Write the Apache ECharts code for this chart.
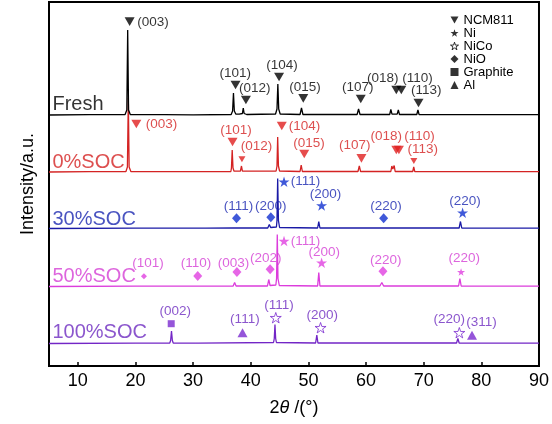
<!DOCTYPE html>
<html><head><meta charset="utf-8">
<script src="https://cdn.jsdelivr.net/npm/echarts@6/dist/echarts.min.js"></script>
<style>html,body{margin:0;padding:0;background:#fff}#c{width:552px;height:424px}</style>
</head><body><div id="c"></div>
<script>
// ---------- data ----------
const traceNames = ['Fresh', '0%SOC', '30%SOC', '50%SOC', '100%SOC'];
const xTicks = [10, 20, 30, 40, 50, 60, 70, 80, 90];

// XRD patterns: [2theta, intensity above own baseline]
const freshPattern = [[5,0],[12,0.3],[18.2,0.5],[18.5,5],[18.65,85],[18.8,5],[19.1,0.5],[25,0.3],[30,0.2],[36.6,0.5],[36.85,4],[37.0,22],[37.15,4],[37.4,1],[37.7,2],[38.0,0.8],[38.55,1.5],[38.7,7],[38.85,1.5],[39.3,0.5],[44.3,1],[44.55,6],[44.7,31],[44.85,6],[45.1,1],[48.55,0.5],[48.8,7],[49.05,0.5],[58.45,0.5],[58.7,6],[58.95,0.5],[64.1,0.5],[64.3,5.5],[64.5,0.8],[65.4,0.8],[65.6,5],[65.8,0.5],[68.8,0.5],[69.0,5],[69.2,0.5],[75,0.3],[82.5,0.3],[82.7,1.5],[82.9,0.3],[83.8,0.3],[84.0,1.2],[84.2,0.3],[90,0.3]];
const soc0Pattern = [[5,0],[12,0.3],[18.35,0.5],[18.6,5],[18.76,74],[18.9,5],[19.2,0.5],[25,0.3],[36.55,0.5],[36.65,4],[36.78,22],[36.92,4],[37.1,0.8],[38.2,0.8],[38.39,6],[38.55,0.8],[44.4,1],[44.55,6],[44.67,35],[44.8,6],[45.0,1],[48.55,0.5],[48.75,7],[48.95,0.5],[58.6,0.5],[58.83,6],[59.05,0.5],[64.3,0.5],[64.47,6],[64.65,3],[64.88,6.5],[65.05,0.5],[68.1,0.5],[68.27,5],[68.45,0.5],[76.6,0.3],[76.8,1],[77,0.3],[81.8,0.3],[82.0,2],[82.2,0.3],[84.4,0.3],[84.6,1],[84.8,0.3],[90,0.3]];
const soc30Pattern = [[5,0],[20,0.3],[31.8,0.3],[32,1],[32.2,0.3],[37.0,0.5],[37.25,2.5],[37.5,0.5],[42.95,0.5],[43.22,4],[43.45,1],[44.45,1.5],[44.55,8],[44.67,50],[44.8,8],[45.0,1],[51.6,0.5],[51.8,7],[52.0,0.5],[62.3,0.5],[62.63,2],[62.95,0.5],[76.15,0.5],[76.38,7],[76.6,0.5],[90,0.3]];
const soc50Pattern = [[5,0],[20,0.3],[36.95,0.5],[37.2,4],[37.45,0.5],[42.9,0.5],[43.12,7],[43.35,1],[44.35,1.5],[44.48,8],[44.6,52],[44.72,8],[44.95,1],[51.6,0.5],[51.8,14],[52.0,0.5],[62.4,0.5],[62.74,4],[63.05,0.5],[76.05,0.5],[76.28,8],[76.5,0.5],[90,0.3]];
const soc100Pattern = [[5,0],[20,0.3],[25.95,0.5],[26.1,3],[26.25,12.5],[26.4,3],[26.55,0.5],[30.5,0.3],[30.7,1],[30.9,0.3],[43.95,1],[44.08,5],[44.2,19],[44.32,5],[44.45,1],[51.25,0.5],[51.46,8.3],[51.65,0.5],[75.7,0.5],[75.93,5],[76.15,0.5],[90,0.3]];
const patterns = [freshPattern, soc0Pattern, soc30Pattern, soc50Pattern, soc100Pattern];

// phase markers: [2theta, level, trace index, 'n'ormal / 's'mall]
const ncmMarks = [[18.99,344.3,0,'n'],[37.36,281,0,'n'],[39.16,266,0,'n'],[44.91,289,0,'n'],[49.11,267.7,0,'n'],[59.08,267,0,'n'],[65.25,276,0,'n'],[66.11,276,0,'n'],[69.1,263,0,'n'],
  [20.15,242,1,'n'],[36.84,224,1,'n'],[38.47,206.7,1,'s'],[45.38,240,1,'n'],[49.28,212,1,'n'],[59.2,207.7,1,'n'],[65.25,216,1,'n'],[65.7,216,1,'n'],[68.29,205,1,'s']];
const niMarks = [[45.77,184.3,2,'n'],[52.29,160.5,2,'n'],[76.75,153.3,2,'n'],[45.77,125,3,'n'],[52.29,103.3,3,'n'],[76.48,94,3,'s']];
const nicoMarks = [[44.34,48.3,4,'n'],[52.11,38.3,4,'n'],[76.18,33.3,4,'n']];
const nioMarks = [[37.53,147.7,2,'n'],[43.48,148.7,2,'n'],[63.05,147.7,2,'n'],[21.47,89.7,3,'s'],[30.8,90,3,'n'],[37.6,94,3,'n'],[43.36,96.7,3,'n'],[62.93,94.7,3,'n']];
const graphiteMarks = [[26.2,42.3,4,'n']];
const alMarks = [[38.57,33.3,4,'n'],[78.38,30.7,4,'n']];

// peak labels: [2theta, level, text, trace index]
const peakLabels = [
  [23.05,344,'(003)',0],[37.31,293,'(101)',0],[40.68,278,'(012)',0],[45.43,301,'(104)',0],[49.4,279,'(015)',0],[58.56,279,'(107)',0],[62.88,288,'(018)',0],[68.93,288,'(110)',0],[70.43,275.3,'(113)',0],
  [24.53,242,'(003)',1],[37.43,236,'(101)',1],[40.99,219.3,'(012)',1],[49.32,240,'(104)',1],[50.09,222.7,'(015)',1],[58.04,220.3,'(107)',1],[63.52,229.3,'(018)',1],[69.27,229.3,'(110)',1],[69.84,216.7,'(113)',1],
  [37.88,159.3,'(111)',2],[43.48,159.3,'(200)',2],[49.49,184.3,'(111)',2],[52.98,171.7,'(200)',2],[63.45,159.3,'(220)',2],[77.17,164.3,'(220)',2],
  [22.16,102.3,'(101)',3],[30.52,102.3,'(110)',3],[37.02,102.3,'(003)',3],[42.61,107.7,'(202)',3],[49.49,125,'(111)',3],[52.74,114,'(200)',3],[63.4,105.7,'(220)',3],[77.05,107.3,'(220)',3],
  [26.89,55,'(002)',4],[38.98,46.3,'(111)',4],[44.91,61,'(111)',4],[52.39,50.7,'(200)',4],[74.45,46.7,'(220)',4],[80.04,44,'(311)',4]
];

// ---------- layout & style ----------
const traceOffsets = [251, 194, 137.5, 79.5, 22.5];
const traceNameLevels = [261.3, 203.5, 146.5, 90, 33.2];
const lineColors = ['#000000', '#d42323', '#1a1aa6', '#dc3cdc', '#7326c6'];
const textColors = ['#000000', '#d42323', '#1c28b0', '#d43fd4', '#6e2cc0'];
const markColors = ['#000000', '#e01f1f', '#1030d0', '#e040e0', '#7a2ad0'];
const FONT = '"Liberation Sans", Arial, sans-serif';
const TRI_DOWN = 'path://M0,0 L10,0 L5,8.66 Z';
const STAR = 'path://M5,0 L6.123,3.455 L9.755,3.455 L6.817,5.59 L7.939,9.045 L5,6.91 L2.061,9.045 L3.183,5.59 L0.245,3.455 L3.877,3.455 Z';

function markSeries(name, marks, symbol, sizeN, sizeS, hollow) {
  return {
    name, type: 'scatter', symbol, symbolKeepAspect: true, z: 5,
    itemStyle: hollow ? { color: '#fff', borderColor: '#000', borderWidth: 1 } : { color: '#000' },
    data: marks.map(m => ({
      value: [m[0], m[1]],
      symbolSize: m[3] === 's' ? sizeS : sizeN,
      itemStyle: hollow ? { color: '#fff', borderColor: markColors[m[2]], borderWidth: 1 } : { color: markColors[m[2]] }
    }))
  };
}

const series = [];
patterns.forEach((p, i) => {
  series.push({
    name: traceNames[i], type: 'line', showSymbol: false, symbol: 'none',
    lineStyle: { color: lineColors[i], width: 1.3 }, z: 2 + (4 - i) * 0.01,
    data: p.map(d => [d[0], d[1] + traceOffsets[i]])
  });
});
series.push(markSeries('NCM811', ncmMarks, TRI_DOWN, 10, 7, false));
series.push(markSeries('Ni', niMarks, STAR, 11, 8, false));
series.push(markSeries('NiCo', nicoMarks, STAR, 11, 8, true));
series.push(markSeries('NiO', nioMarks, 'diamond', [9, 10], [6, 6], false));
series.push(markSeries('Graphite', graphiteMarks, 'rect', 7, 5, false));
series.push(markSeries('Al', alMarks, 'triangle', [10, 9], [7, 6], false));
series.push({
  name: 'peakLabels', type: 'scatter', symbolSize: 0, z: 6,
  itemStyle: { color: 'rgba(0,0,0,0)' },
  data: peakLabels.map(l => ({
    value: [l[0], l[1]], name: l[2],
    label: { color: textColors[l[3]] }
  })),
  label: { show: true, position: 'inside', formatter: '{b}', fontSize: 13.5, fontFamily: FONT }
});
series.push({
  name: 'traceLabels', type: 'scatter', symbolSize: 0, z: 6,
  itemStyle: { color: 'rgba(0,0,0,0)' },
  data: traceNames.map((n, i) => ({
    value: [5.6, traceNameLevels[i]], name: n,
    label: { color: textColors[i] }
  })),
  label: { show: true, position: 'right', distance: 0, formatter: '{b}', fontSize: 20, fontFamily: FONT }
});

const chart = echarts.init(document.getElementById('c'), null, { renderer: 'canvas' });
chart.setOption({
  animation: false,
  backgroundColor: '#fff',
  grid: { left: 49, right: 11, top: 2, bottom: 58, show: true, borderColor: '#000', borderWidth: 2, backgroundColor: 'transparent' },
  legend: {
    orient: 'vertical', left: 450, top: 13.5, padding: 0, itemGap: 0,
    itemWidth: 8, itemHeight: 8,
    textStyle: { fontSize: 13, lineHeight: 13, color: '#000', fontFamily: FONT },
    data: [
      { name: 'NCM811', icon: TRI_DOWN, itemStyle: { color: '#000' } },
      { name: 'Ni', icon: STAR, itemStyle: { color: '#000' } },
      { name: 'NiCo', icon: STAR, itemStyle: { color: '#fff', borderColor: '#000', borderWidth: 1 } },
      { name: 'NiO', icon: 'diamond', itemStyle: { color: '#000' } },
      { name: 'Graphite', icon: 'rect', itemStyle: { color: '#000' } },
      { name: 'Al', icon: 'triangle', itemStyle: { color: '#000' } }
    ],
    selectedMode: false
  },
  xAxis: {
    type: 'value', min: 5, max: 90,
    name: '{a|2}{b|θ}{a| /(°)}', nameLocation: 'middle', nameGap: 33,
    nameTextStyle: { rich: {
      a: { fontSize: 18, fontFamily: FONT, color: '#000' },
      b: { fontSize: 18, fontFamily: FONT, fontStyle: 'italic', color: '#000' }
    } },
    axisLine: { show: true, onZero: false, lineStyle: { color: '#000', width: 2 } },
    axisTick: { show: true, inside: true, length: 4, customValues: xTicks, lineStyle: { color: '#000', width: 1.5 } },
    axisLabel: { customValues: xTicks, fontSize: 18, color: '#000', fontFamily: FONT, margin: 6 },
    splitLine: { show: false }
  },
  yAxis: {
    type: 'value', min: 0, max: 364,
    name: 'Intensity/a.u.', nameLocation: 'middle', nameGap: 12,
    nameTextStyle: { fontSize: 18, fontFamily: FONT, color: '#000' },
    axisLine: { show: true, onZero: false, lineStyle: { color: '#000', width: 2 } },
    axisTick: { show: false }, axisLabel: { show: false }, splitLine: { show: false }
  },
  series
});
</script></body></html>
